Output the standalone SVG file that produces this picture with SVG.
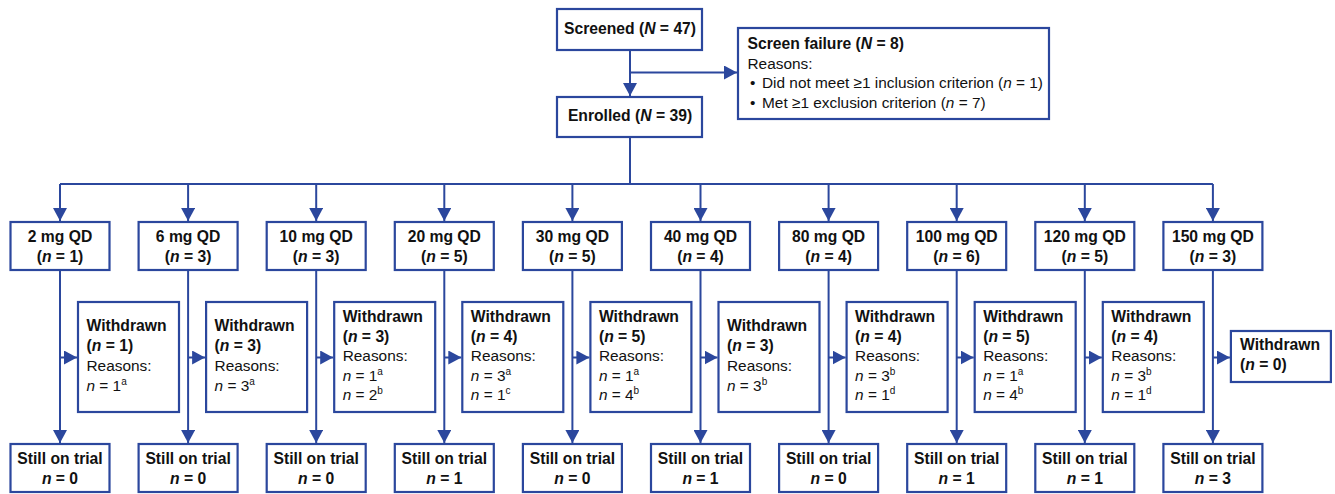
<svg xmlns="http://www.w3.org/2000/svg" width="1335" height="494" viewBox="0 0 1335 494">
<style>
.box{fill:#fff;stroke:#2b479d;stroke-width:2.2}
.ln{fill:none;stroke:#2b479d;stroke-width:2}
.arr{fill:none;stroke:#2b479d;stroke-width:2;marker-end:url(#ah)}
text{font-family:"Liberation Sans",Arial,Helvetica,sans-serif;font-size:15.4px;fill:#111}
.b{font-weight:bold;font-size:15.7px}
.c{text-anchor:middle}
.i{font-style:italic}
.sup{font-size:10px}
</style>
<defs>
<marker id="ah" viewBox="0 0 13 14" refX="13" refY="7" markerWidth="13" markerHeight="14" orient="auto" markerUnits="userSpaceOnUse"><path d="M0,0 L13,7 L0,14 z" fill="#2b479d"/></marker>
</defs>
<g id="connectors">
<path class="arr" d="M630,50 V96"/>
<path class="arr" d="M630,72.5 H737"/>
<path class="ln" d="M630,137 V184 M60,184 H1212.9"/>
<path class="arr" d="M60,184 V221"/><path class="arr" d="M188.1,184 V221"/><path class="arr" d="M316.2,184 V221"/><path class="arr" d="M444.3,184 V221"/><path class="arr" d="M572.4,184 V221"/><path class="arr" d="M700.5,184 V221"/><path class="arr" d="M828.6,184 V221"/><path class="arr" d="M956.7,184 V221"/><path class="arr" d="M1084.8,184 V221"/><path class="arr" d="M1212.9,184 V221"/>
<path class="arr" d="M60,270 V443"/><path class="arr" d="M188.1,270 V443"/><path class="arr" d="M316.2,270 V443"/><path class="arr" d="M444.3,270 V443"/><path class="arr" d="M572.4,270 V443"/><path class="arr" d="M700.5,270 V443"/><path class="arr" d="M828.6,270 V443"/><path class="arr" d="M956.7,270 V443"/><path class="arr" d="M1084.8,270 V443"/><path class="arr" d="M1212.9,270 V443"/>
<path class="arr" d="M60,357.5 H77"/><path class="arr" d="M188.1,357.5 H205.1"/><path class="arr" d="M316.2,357.5 H333.2"/><path class="arr" d="M444.3,357.5 H461.3"/><path class="arr" d="M572.4,357.5 H589.4"/><path class="arr" d="M700.5,357.5 H717.5"/><path class="arr" d="M828.6,357.5 H845.6"/><path class="arr" d="M956.7,357.5 H973.7"/><path class="arr" d="M1084.8,357.5 H1101.8"/><path class="arr" d="M1212.9,357.5 H1229.9"/>
</g>
<g id="screened"><rect class="box" x="557" y="9" width="145" height="41"/><text class="b c" x="630" y="34">Screened (<tspan class="i">N</tspan> = 47)</text></g>
<g id="enrolled"><rect class="box" x="557" y="97" width="145" height="40"/><text class="b c" x="630" y="121">Enrolled (<tspan class="i">N</tspan> = 39)</text></g>
<g id="screen-failure"><rect class="box" x="738" y="28" width="311" height="91"/>
<text class="b" x="747.5" y="48.5">Screen failure (<tspan class="i">N</tspan> = 8)</text>
<text x="747.5" y="68.5">Reasons:</text>
<text x="750" y="88">•</text><text x="762" y="88">Did not meet ≥1 inclusion criterion (<tspan class="i">n</tspan> = 1)</text>
<text x="750" y="107.5">•</text><text x="762" y="107.5">Met ≥1 exclusion criterion (<tspan class="i">n</tspan> = 7)</text>
</g>

<g id="dose-2"><rect class="box" x="10.5" y="222" width="99" height="48"/><text class="b c" x="60" y="242">2 mg QD</text><text class="b c" x="60" y="262">(<tspan class="i">n</tspan> = 1)</text></g>
<g id="dose-6"><rect class="box" x="138.6" y="222" width="99" height="48"/><text class="b c" x="188.1" y="242">6 mg QD</text><text class="b c" x="188.1" y="262">(<tspan class="i">n</tspan> = 3)</text></g>
<g id="dose-10"><rect class="box" x="266.7" y="222" width="99" height="48"/><text class="b c" x="316.2" y="242">10 mg QD</text><text class="b c" x="316.2" y="262">(<tspan class="i">n</tspan> = 3)</text></g>
<g id="dose-20"><rect class="box" x="394.8" y="222" width="99" height="48"/><text class="b c" x="444.3" y="242">20 mg QD</text><text class="b c" x="444.3" y="262">(<tspan class="i">n</tspan> = 5)</text></g>
<g id="dose-30"><rect class="box" x="522.9" y="222" width="99" height="48"/><text class="b c" x="572.4" y="242">30 mg QD</text><text class="b c" x="572.4" y="262">(<tspan class="i">n</tspan> = 5)</text></g>
<g id="dose-40"><rect class="box" x="651" y="222" width="99" height="48"/><text class="b c" x="700.5" y="242">40 mg QD</text><text class="b c" x="700.5" y="262">(<tspan class="i">n</tspan> = 4)</text></g>
<g id="dose-80"><rect class="box" x="779.1" y="222" width="99" height="48"/><text class="b c" x="828.6" y="242">80 mg QD</text><text class="b c" x="828.6" y="262">(<tspan class="i">n</tspan> = 4)</text></g>
<g id="dose-100"><rect class="box" x="907.2" y="222" width="99" height="48"/><text class="b c" x="956.7" y="242">100 mg QD</text><text class="b c" x="956.7" y="262">(<tspan class="i">n</tspan> = 6)</text></g>
<g id="dose-120"><rect class="box" x="1035.3" y="222" width="99" height="48"/><text class="b c" x="1084.8" y="242">120 mg QD</text><text class="b c" x="1084.8" y="262">(<tspan class="i">n</tspan> = 5)</text></g>
<g id="dose-150"><rect class="box" x="1163.4" y="222" width="99" height="48"/><text class="b c" x="1212.9" y="242">150 mg QD</text><text class="b c" x="1212.9" y="262">(<tspan class="i">n</tspan> = 3)</text></g>

<g id="withdrawn-2"><rect class="box" x="78" y="302" width="101" height="110"/><text class="b" x="86.5" y="331">Withdrawn</text><text class="b" x="86.5" y="351">(<tspan class="i">n</tspan> = 1)</text><text x="86.5" y="371">Reasons:</text><text x="86.5" y="391"><tspan class="i">n</tspan> = 1<tspan class="sup" dy="-6">a</tspan></text></g>
<g id="withdrawn-6"><rect class="box" x="206.1" y="302" width="101" height="110"/><text class="b" x="214.6" y="331">Withdrawn</text><text class="b" x="214.6" y="351">(<tspan class="i">n</tspan> = 3)</text><text x="214.6" y="371">Reasons:</text><text x="214.6" y="391"><tspan class="i">n</tspan> = 3<tspan class="sup" dy="-6">a</tspan></text></g>
<g id="withdrawn-10"><rect class="box" x="334.2" y="302" width="101" height="110"/><text class="b" x="342.7" y="322">Withdrawn</text><text class="b" x="342.7" y="341.5">(<tspan class="i">n</tspan> = 3)</text><text x="342.7" y="361">Reasons:</text><text x="342.7" y="380.5"><tspan class="i">n</tspan> = 1<tspan class="sup" dy="-6">a</tspan></text><text x="342.7" y="400"><tspan class="i">n</tspan> = 2<tspan class="sup" dy="-6">b</tspan></text></g>
<g id="withdrawn-20"><rect class="box" x="462.3" y="302" width="101" height="110"/><text class="b" x="470.8" y="322">Withdrawn</text><text class="b" x="470.8" y="341.5">(<tspan class="i">n</tspan> = 4)</text><text x="470.8" y="361">Reasons:</text><text x="470.8" y="380.5"><tspan class="i">n</tspan> = 3<tspan class="sup" dy="-6">a</tspan></text><text x="470.8" y="400"><tspan class="i">n</tspan> = 1<tspan class="sup" dy="-6">c</tspan></text></g>
<g id="withdrawn-30"><rect class="box" x="590.4" y="302" width="101" height="110"/><text class="b" x="598.9" y="322">Withdrawn</text><text class="b" x="598.9" y="341.5">(<tspan class="i">n</tspan> = 5)</text><text x="598.9" y="361">Reasons:</text><text x="598.9" y="380.5"><tspan class="i">n</tspan> = 1<tspan class="sup" dy="-6">a</tspan></text><text x="598.9" y="400"><tspan class="i">n</tspan> = 4<tspan class="sup" dy="-6">b</tspan></text></g>
<g id="withdrawn-40"><rect class="box" x="718.5" y="302" width="101" height="110"/><text class="b" x="727" y="331">Withdrawn</text><text class="b" x="727" y="351">(<tspan class="i">n</tspan> = 3)</text><text x="727" y="371">Reasons:</text><text x="727" y="391"><tspan class="i">n</tspan> = 3<tspan class="sup" dy="-6">b</tspan></text></g>
<g id="withdrawn-80"><rect class="box" x="846.6" y="302" width="101" height="110"/><text class="b" x="855.1" y="322">Withdrawn</text><text class="b" x="855.1" y="341.5">(<tspan class="i">n</tspan> = 4)</text><text x="855.1" y="361">Reasons:</text><text x="855.1" y="380.5"><tspan class="i">n</tspan> = 3<tspan class="sup" dy="-6">b</tspan></text><text x="855.1" y="400"><tspan class="i">n</tspan> = 1<tspan class="sup" dy="-6">d</tspan></text></g>
<g id="withdrawn-100"><rect class="box" x="974.7" y="302" width="101" height="110"/><text class="b" x="983.2" y="322">Withdrawn</text><text class="b" x="983.2" y="341.5">(<tspan class="i">n</tspan> = 5)</text><text x="983.2" y="361">Reasons:</text><text x="983.2" y="380.5"><tspan class="i">n</tspan> = 1<tspan class="sup" dy="-6">a</tspan></text><text x="983.2" y="400"><tspan class="i">n</tspan> = 4<tspan class="sup" dy="-6">b</tspan></text></g>
<g id="withdrawn-120"><rect class="box" x="1102.8" y="302" width="101" height="110"/><text class="b" x="1111.3" y="322">Withdrawn</text><text class="b" x="1111.3" y="341.5">(<tspan class="i">n</tspan> = 4)</text><text x="1111.3" y="361">Reasons:</text><text x="1111.3" y="380.5"><tspan class="i">n</tspan> = 3<tspan class="sup" dy="-6">b</tspan></text><text x="1111.3" y="400"><tspan class="i">n</tspan> = 1<tspan class="sup" dy="-6">d</tspan></text></g>
<g id="withdrawn-150"><rect class="box" x="1230.9" y="331" width="100" height="51"/><text class="b" x="1240" y="349.5">Withdrawn</text><text class="b" x="1240" y="370">(<tspan class="i">n</tspan> = 0)</text></g>

<g id="still-2"><rect class="box" x="10.5" y="444" width="99" height="48"/><text class="b c" x="60" y="463.5">Still on trial</text><text class="b c" x="60" y="483.5"><tspan class="i">n</tspan> = 0</text></g>
<g id="still-6"><rect class="box" x="138.6" y="444" width="99" height="48"/><text class="b c" x="188.1" y="463.5">Still on trial</text><text class="b c" x="188.1" y="483.5"><tspan class="i">n</tspan> = 0</text></g>
<g id="still-10"><rect class="box" x="266.7" y="444" width="99" height="48"/><text class="b c" x="316.2" y="463.5">Still on trial</text><text class="b c" x="316.2" y="483.5"><tspan class="i">n</tspan> = 0</text></g>
<g id="still-20"><rect class="box" x="394.8" y="444" width="99" height="48"/><text class="b c" x="444.3" y="463.5">Still on trial</text><text class="b c" x="444.3" y="483.5"><tspan class="i">n</tspan> = 1</text></g>
<g id="still-30"><rect class="box" x="522.9" y="444" width="99" height="48"/><text class="b c" x="572.4" y="463.5">Still on trial</text><text class="b c" x="572.4" y="483.5"><tspan class="i">n</tspan> = 0</text></g>
<g id="still-40"><rect class="box" x="651" y="444" width="99" height="48"/><text class="b c" x="700.5" y="463.5">Still on trial</text><text class="b c" x="700.5" y="483.5"><tspan class="i">n</tspan> = 1</text></g>
<g id="still-80"><rect class="box" x="779.1" y="444" width="99" height="48"/><text class="b c" x="828.6" y="463.5">Still on trial</text><text class="b c" x="828.6" y="483.5"><tspan class="i">n</tspan> = 0</text></g>
<g id="still-100"><rect class="box" x="907.2" y="444" width="99" height="48"/><text class="b c" x="956.7" y="463.5">Still on trial</text><text class="b c" x="956.7" y="483.5"><tspan class="i">n</tspan> = 1</text></g>
<g id="still-120"><rect class="box" x="1035.3" y="444" width="99" height="48"/><text class="b c" x="1084.8" y="463.5">Still on trial</text><text class="b c" x="1084.8" y="483.5"><tspan class="i">n</tspan> = 1</text></g>
<g id="still-150"><rect class="box" x="1163.4" y="444" width="99" height="48"/><text class="b c" x="1212.9" y="463.5">Still on trial</text><text class="b c" x="1212.9" y="483.5"><tspan class="i">n</tspan> = 3</text></g>
</svg>
